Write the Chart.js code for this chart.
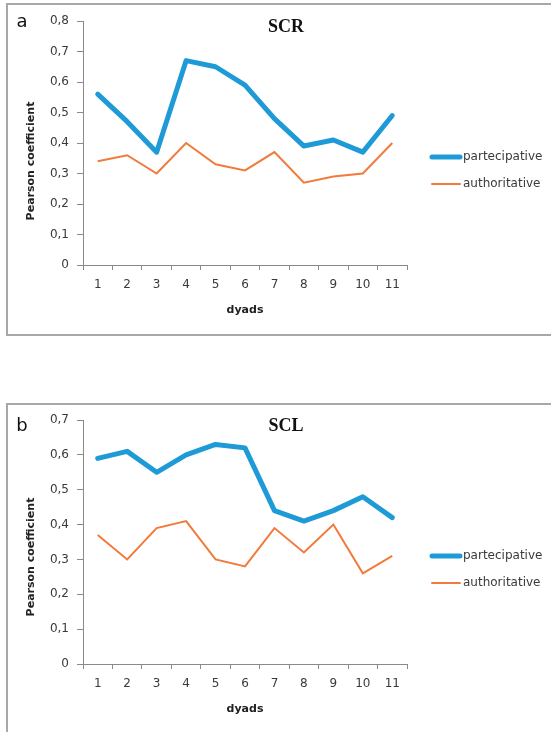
<!DOCTYPE html>
<html>
<head>
<meta charset="utf-8">
<script src="https://cdn.jsdelivr.net/npm/chart.js@4/dist/chart.umd.min.js"></script>
<style>
  html, body { margin: 0; padding: 0; background: #fff; width: 551px; height: 732px; overflow: hidden; }
  .frame { position: absolute; border: 2px solid #a8a8a8; border-right: none; box-sizing: border-box; }
  #fa { left: 6px; top: 3px; width: 560px; height: 333px; }
  #fb { left: 6px; top: 403px; width: 560px; height: 340px; border-bottom: none; }
  canvas { position: absolute; left: 0; }
  #wa { position: absolute; left: 0; top: 0; width: 551px; height: 366px; }
  #wb { position: absolute; left: 0; top: 366px; width: 551px; height: 366px; }
</style>
</head>
<body>
<div class="frame" id="fa"></div>
<div class="frame" id="fb"></div>
<div id="wa"><canvas id="ca"></canvas></div>
<div id="wb"><canvas id="cb"></canvas></div>
<script>
const dyads = ['1','2','3','4','5','6','7','8','9','10','11'];
const seriesNames = ['partecipative', 'authoritative'];

const scrPartecipative = [0.56, 0.47, 0.37, 0.67, 0.65, 0.59, 0.48, 0.39, 0.41, 0.37, 0.49];
const scrAuthoritative = [0.34, 0.36, 0.30, 0.40, 0.33, 0.31, 0.37, 0.27, 0.29, 0.30, 0.40];

const sclPartecipative = [0.59, 0.61, 0.55, 0.60, 0.63, 0.62, 0.44, 0.41, 0.44, 0.48, 0.42];
const sclAuthoritative = [0.37, 0.30, 0.39, 0.41, 0.30, 0.28, 0.39, 0.32, 0.40, 0.26, 0.31];

const yTicksA = ['0','0,1','0,2','0,3','0,4','0,5','0,6','0,7','0,8'];
const yTicksB = ['0','0,1','0,2','0,3','0,4','0,5','0,6','0,7'];

const BLUE = '#1e9bd7';
const ORANGE = '#f27a3a';
const TXT = '#3a3a3a';
const AXIS = '#8a8a8a';
const SANS = '"DejaVu Sans", Verdana, sans-serif';

function makeChart(canvasId, opts) {
  const decor = {
    id: 'decor',
    afterDraw(chart) {
      const ctx = chart.ctx;
      const area = chart.chartArea;
      ctx.save();
      ctx.fillStyle = '#111';
      ctx.font = '18px ' + SANS;
      ctx.textAlign = 'center';
      ctx.textBaseline = 'middle';
      ctx.fillText(opts.letter, 22, opts.letterY);
      ctx.fillStyle = '#111';
      ctx.font = 'bold 18px "Liberation Serif", "Times New Roman", serif';
      ctx.fillText(opts.title, 286, opts.titleY);
      ctx.font = 'bold 11px ' + SANS;
      ctx.fillStyle = '#222';
      ctx.fillText('dyads', (area.left + area.right) / 2, area.bottom + 45);
      ctx.save();
      ctx.translate(31, opts.yTitleY);
      ctx.rotate(-Math.PI / 2);
      ctx.fillText('Pearson coefficient', 0, 0);
      ctx.restore();
      const ds = chart.data.datasets;
      ctx.textAlign = 'left';
      ctx.font = '12px ' + SANS;
      ds.forEach((d, i) => {
        const y = opts.legendY[i];
        ctx.strokeStyle = d.borderColor;
        ctx.lineWidth = d.borderWidth;
        ctx.lineCap = 'round';
        ctx.beginPath();
        ctx.moveTo(432, y);
        ctx.lineTo(460, y);
        ctx.stroke();
        ctx.fillStyle = TXT;
        ctx.fillText(d.label, 463, y);
      });
      ctx.restore();
    }
  };
  return new Chart(document.getElementById(canvasId), {
    type: 'line',
    data: {
      labels: dyads,
      datasets: [
        { label: seriesNames[0], data: opts.p, borderColor: BLUE, backgroundColor: BLUE, borderWidth: 5, pointRadius: 0, tension: 0, borderJoinStyle: 'round', borderCapStyle: 'round' },
        { label: seriesNames[1], data: opts.a, borderColor: ORANGE, backgroundColor: ORANGE, borderWidth: 2, pointRadius: 0, tension: 0 }
      ]
    },
    options: {
      responsive: true,
      maintainAspectRatio: false,
      animation: false,
      events: [],
      layout: { padding: { left: 0, right: 144, top: opts.top, bottom: 0 } },
      plugins: { legend: { display: false }, title: { display: false }, tooltip: { enabled: false } },
      scales: {
        x: {
          type: 'category',
          offset: true,
          grid: { offset: true, drawOnChartArea: false, drawTicks: true, tickLength: 5, color: AXIS, lineWidth: 1 },
          border: { display: true, color: AXIS, width: 1 },
          ticks: { color: TXT, font: { family: SANS, size: 12 }, padding: 8, maxRotation: 0, autoSkip: false },
          afterFit(s) { s.height = opts.xh; }
        },
        y: {
          min: 0, max: opts.max,
          grid: { drawOnChartArea: false, drawTicks: true, tickLength: 6, color: AXIS, lineWidth: 1 },
          border: { display: true, color: AXIS, width: 1 },
          ticks: {
            stepSize: 0.1, color: TXT, font: { family: SANS, size: 12 }, padding: 8,
            callback: (v) => opts.yt[Math.round(v * 10)]
          },
          afterFit(s) { s.width = 83; }
        }
      }
    },
    plugins: [decor]
  });
}

makeChart('ca', { p: scrPartecipative, a: scrAuthoritative, max: 0.8, yt: yTicksA, top: 21, xh: 101,
  letter: 'a', letterY: 22, title: 'SCR', titleY: 27, yTitleY: 161, legendY: [157, 184] });
makeChart('cb', { p: sclPartecipative, a: sclAuthoritative, max: 0.7, yt: yTicksB, top: 54, xh: 68,
  letter: 'b', letterY: 60, title: 'SCL', titleY: 60, yTitleY: 191, legendY: [190, 217] });
</script>
</body>
</html>
